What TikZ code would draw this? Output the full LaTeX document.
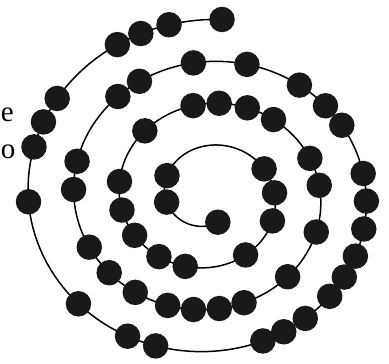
\documentclass[tikz,border=0pt]{standalone}
\usepackage{fontspec}
\setmainfont{Liberation Serif}
\tikzset{
  bead/.style={circle,fill=black!90,inner sep=0pt,minimum size=25.5pt},
  declare function={rsp(\t)=20.8+0.1267*\t;}
}
\begin{document}
\begin{tikzpicture}[x=1pt,y=-1pt]
                \useasboundingbox (0,0) rectangle (389,364);
                \draw[line width=1.5pt] plot[domain=72:1354,samples=500,variable=\t]
                  ({208.6+rsp(\t)*cos(\t)},{196+0.92*rsp(\t)*sin(\t)});
                \foreach \a [count=\i] in {72,171,208,332,357,383,420,467,487,510,530,550,
                    588,621,636,652,668,698,714,740,768,793,805,817,829,845,860,875,
                    903,916,950,961,984,1005,1027,1040,1050,1071,1082,1093,1104,1113,
                    1122,1134,1143,1151,1188,1198,1218,1258,1277,1286,1295,1321,1329,1338,1354}
                  \node[bead] (b\i) at ({208.6+rsp(\a)*cos(\a)},{196+0.92*rsp(\a)*sin(\a)}) {};
                \node[anchor=base west,font=\fontsize{29}{35}\selectfont,inner sep=0pt] (le) at (0.8,121) {e};
                \node[anchor=base west,font=\fontsize{29}{35}\selectfont,inner sep=0pt] (lo) at (0.8,158) {o};
            \end{tikzpicture}
\end{document}
